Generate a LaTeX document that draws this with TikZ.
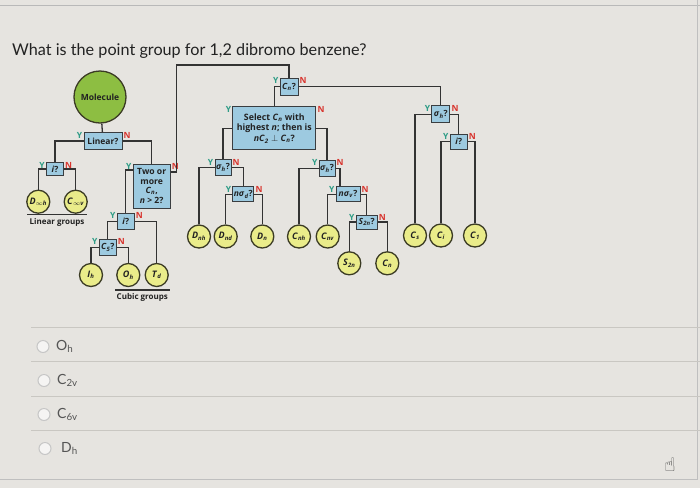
\documentclass[tikz,border=0pt]{standalone}
\usepackage{fontspec}
\setmainfont{Lato}
\newfontfamily\chartfont{Open Sans}
\newfontfamily\handfont{DejaVu Sans}
\usepackage{tikz}

\definecolor{pagebg}{HTML}{E6E4E0}
\definecolor{ruleline}{HTML}{C9C7C2}
\definecolor{boxfill}{HTML}{9DCAE0}
\definecolor{boxline}{HTML}{3A3D40}
\definecolor{leaffill}{HTML}{EAEC8A}
\definecolor{leafline}{HTML}{3B3B24}
\definecolor{molfill}{HTML}{8DBE42}
\definecolor{linkcol}{HTML}{333333}
\definecolor{yescol}{HTML}{2E9C86}
\definecolor{nocol}{HTML}{D8342E}
\definecolor{textdark}{HTML}{222222}
\definecolor{answergray}{HTML}{555555}

\newcommand{\grp}[2]{\textit{#1}\textsubscript{\textit{#2}}}

\begin{document}
\begin{tikzpicture}[
    x=1pt, y=-1pt,
    query/.style={draw=boxline, fill=boxfill, line width=1pt, align=center, inner sep=0.5pt,
      text=textdark, font=\chartfont\bfseries\fontsize{8.5}{9.5}\selectfont,
      label={[yes]north west:Y}, label={[no]north east:N}},
    yes/.style={anchor=east, inner sep=1pt, yshift=-3pt, text=yescol,
      font=\chartfont\bfseries\fontsize{8.5}{8.5}\selectfont},
    no/.style={anchor=west, inner sep=1pt, yshift=-3pt, text=nocol,
      font=\chartfont\bfseries\fontsize{8.5}{8.5}\selectfont},
    leaf/.style={circle, draw=leafline, fill=leaffill, line width=1.3pt, minimum size=23pt,
      inner sep=0pt, text=textdark, font=\chartfont\bfseries\fontsize{9}{9}\selectfont},
    link/.style={draw=linkcol, line width=1.3pt},
    grouplabel/.style={inner sep=1pt, text=textdark, font=\chartfont\bfseries\fontsize{8}{8}\selectfont},
    radio/.style={circle, draw=gray!45, fill=white!60!pagebg, line width=1pt, minimum size=12pt, inner sep=0pt},
    answer/.style={anchor=west, inner sep=0pt, text=answergray, font=\fontsize{14}{16}\selectfont},
]
  \useasboundingbox (0,0) rectangle (700,488);
  \fill[pagebg] (0,0) rectangle (700,488);
  \draw[gray!55, line width=1.5pt] (0,5.5) -- (700,5.5);
  \draw[gray!50, line width=1pt] (0,479) -- (697.5,479) -- (697.5,0);

  \node[anchor=base west, inner sep=0pt, text=textdark, font=\fontsize{16.2}{19}\selectfont]
    (question) at (12,55) {What is the point group for 1,2 dibromo benzene?};

  % linear branch
  \node[circle, draw=leafline, fill=molfill, line width=1.3pt, minimum size=52pt, inner sep=0pt,
    text=textdark, font=\chartfont\bfseries\fontsize{8.5}{9}\selectfont] (mol) at (100,97) {Molecule};
  \node[query, minimum width=38pt, minimum height=17pt] (linear) at (103,141) {Linear?};
  \node[query, minimum width=17pt, minimum height=13pt] (ilin) at (55,169) {\textit{i}?};
  \node[leaf] (dinfh) at (38.3,201.7) {\textit{D}\textsubscript{$\infty$\textit{h}}};
  \node[leaf] (cinfv) at (75.7,201.7) {\textit{C}\textsubscript{$\infty$\textit{v}}};
  \node[grouplabel] (lingrp) at (57,222) {Linear groups};

  % cubic branch
  \node[query, minimum width=37pt, minimum height=44pt, font=\chartfont\bfseries\fontsize{8.6}{9.6}\selectfont]
    (two) at (151.7,186) {Two or\\more\\\grp{C}{n},\\\textit{n} > 2?};
  \node[query, minimum width=17pt, minimum height=16pt] (icub) at (125.7,221.2) {\textit{i}?};
  \node[query, minimum width=17pt, minimum height=16pt] (cfive) at (107.7,247.2) {\grp{C}{5}?};
  \node[leaf] (ih) at (91,275) {\grp{I}{h}};
  \node[leaf] (oh) at (128.3,275) {\grp{O}{h}};
  \node[leaf] (td) at (156.7,275) {\grp{T}{d}};
  \node[grouplabel] (cubgrp) at (142.3,297.5) {Cubic groups};

  % rotation axis branch
  \coordinate (ncorner) at (176.7,65);
  \node[query, minimum width=18pt, minimum height=17pt] (cn) at (289,86.7) {\grp{C}{n}?};
  \node[query, minimum width=83pt, minimum height=43pt, font=\chartfont\bfseries\fontsize{8.8}{10.8}\selectfont]
    (select) at (274.3,128.3) {Select \grp{C}{n} with\\highest \textit{n}; then is\\\textit{n}\grp{C}{2} $\perp$ \grp{C}{n}?};
  \node[query, minimum width=16pt, minimum height=16pt] (sigl) at (223,167.5) {\textit{σ}\textsubscript{\textit{h}}?};
  \node[query, minimum width=21pt, minimum height=15pt] (nsd) at (243.3,194.2) {\textit{nσ}\textsubscript{\textit{d}}?};
  \node[leaf] (dnh) at (199,236.5) {\grp{D}{nh}};
  \node[leaf] (dnd) at (225.7,236.5) {\grp{D}{nd}};
  \node[leaf] (dn) at (262.3,236.5) {\grp{D}{n}};
  \node[query, minimum width=16pt, minimum height=16pt] (sigr) at (327,168.3) {\textit{σ}\textsubscript{\textit{h}}?};
  \node[query, minimum width=24pt, minimum height=15pt] (nsv) at (348,194.2) {\textit{nσ}\textsubscript{\textit{v}}?};
  \node[leaf] (cnh) at (299,236.5) {\grp{C}{nh}};
  \node[leaf] (cnv) at (327.7,236.5) {\grp{C}{nv}};
  \node[query, minimum width=21pt, minimum height=14pt] (stwon) at (366.7,222) {\grp{S}{2n}?};
  \node[leaf] (s2n) at (349.3,263.3) {\grp{S}{2n}};
  \node[leaf] (cnleaf) at (387.3,263.3) {\grp{C}{n}};

  % no rotation axis
  \node[query, minimum width=18pt, minimum height=17pt] (sigt) at (440.8,114.3) {\textit{σ}\textsubscript{\textit{h}}?};
  \node[query, minimum width=17pt, minimum height=15pt] (itop) at (458.7,141.7) {\textit{i}?};
  \node[leaf] (cs) at (415,235.5) {\grp{C}{s}};
  \node[leaf] (ci) at (441,235.5) {\grp{C}{i}};
  \node[leaf] (cone) at (475,235.5) {\grp{C}{1}};

  \draw[link] (mol) -- (linear);
  \draw[link] (linear.west) -| (ilin.north);
  \draw[link] (linear.east) -| (two.north);
  \draw[link] (ilin.west) -| (dinfh.north);
  \draw[link] (ilin.east) -| (cinfv.north);
  \draw[link] ([yshift=16pt]two.west) -| (icub.north);
  \draw[link] (icub.west) -| (cfive.north);
  \draw[link] (icub.east) -| (td.north);
  \draw[link] (cfive.west) -| (ih.north);
  \draw[link] (cfive.east) -| (oh.north);
  \draw[link] ([yshift=14pt]two.east) -| (ncorner) -| (cn.north);
  \draw[link] (cn.west) -| (select.north);
  \draw[link] (cn.east) -| (sigt.north);
  \draw[link] (select.west) -| (sigl.north);
  \draw[link] (select.east) -| (sigr.north);
  \draw[link] (sigl.west) -| (dnh.north);
  \draw[link] (sigl.east) -| (nsd.north);
  \draw[link] (nsd.west) -| (dnd.north);
  \draw[link] (nsd.east) -| (dn.north);
  \draw[link] (sigr.west) -| (cnh.north);
  \draw[link] (sigr.east) -| ([xshift=-8pt]nsv.north);
  \draw[link] (nsv.west) -| (cnv.north);
  \draw[link] (nsv.east) -| (stwon.north);
  \draw[link] (stwon.west) -| (s2n.north);
  \draw[link] (stwon.east) -| (cnleaf.north);
  \draw[link] (sigt.west) -| (cs.north);
  \draw[link] (sigt.east) -| (itop.north);
  \draw[link] (itop.west) -| (ci.north);
  \draw[link] (itop.east) -| (cone.north);

  \draw[linkcol, line width=1.2pt] (27,214.5) -- (86.7,214.5);
  \draw[linkcol, line width=1.2pt] (115,290) -- (170,290);

  % answer choices
  \foreach \y in {327,361.5,396,430.5}
    \draw[ruleline, line width=1pt] (31,\y) -- (700,\y);
  \node[radio] (r1) at (43,346.5) {};
  \node[radio] (r2) at (44,380.5) {};
  \node[radio] (r3) at (44,414.5) {};
  \node[radio] (r4) at (45,448.5) {};
  \node[answer] (a1) at (56,346.5) {O\textsubscript{h}};
  \node[answer] (a2) at (57,380.5) {C\textsubscript{2v}};
  \node[answer] (a3) at (57,414.5) {C\textsubscript{6v}};
  \node[answer] (a4) at (61,448.5) {D\textsubscript{h}};

  \node[text=black!70, font=\handfont\fontsize{19}{19}\selectfont] (hand) at (670,465) {☝};
\end{tikzpicture}
\end{document}
